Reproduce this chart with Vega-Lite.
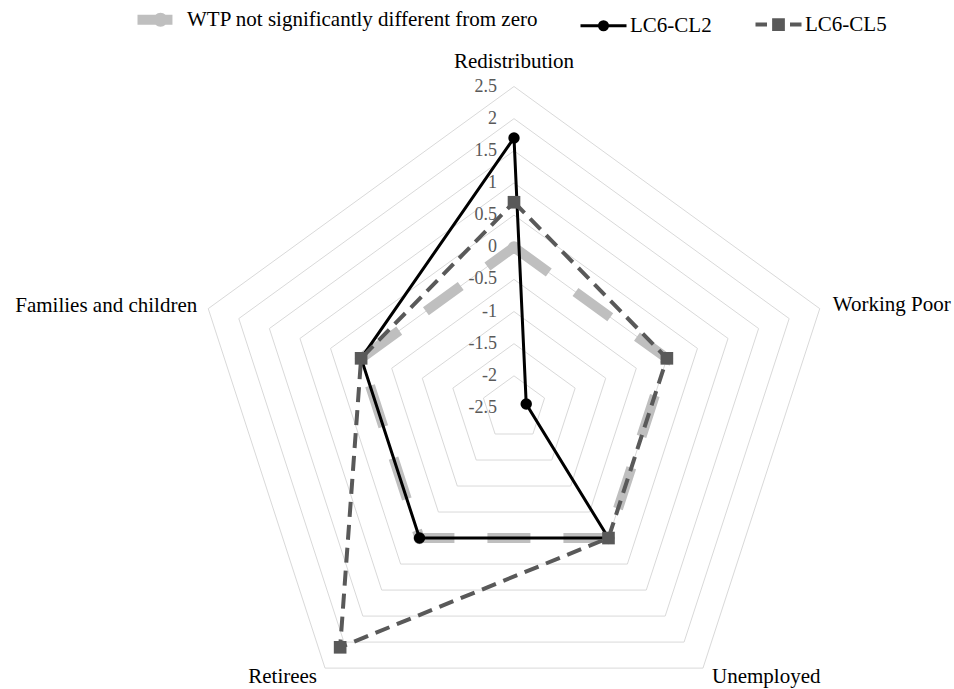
{
  "$schema": "https://vega.github.io/schema/vega-lite/v6.json",
  "width": 954,
  "height": 689,
  "autosize": "none",
  "padding": 0,
  "background": "white",
  "config": {"view": {"stroke": null}, "text": {"font": "Liberation Serif"}, "legend": {"labelFont": "Liberation Serif"}},
  "datasets": {
    "series": [
      {"series": "WTP not significantly different from zero", "category": "Redistribution", "k": 0, "value": 0},
      {"series": "WTP not significantly different from zero", "category": "Working Poor", "k": 1, "value": 0},
      {"series": "WTP not significantly different from zero", "category": "Unemployed", "k": 2, "value": 0},
      {"series": "WTP not significantly different from zero", "category": "Retirees", "k": 3, "value": 0},
      {"series": "WTP not significantly different from zero", "category": "Families and children", "k": 4, "value": 0},
      {"series": "WTP not significantly different from zero", "category": "Redistribution", "k": 5, "value": 0},
      {"series": "LC6-CL2", "category": "Redistribution", "k": 0, "value": 1.7},
      {"series": "LC6-CL2", "category": "Working Poor", "k": 1, "value": -2.3},
      {"series": "LC6-CL2", "category": "Unemployed", "k": 2, "value": 0},
      {"series": "LC6-CL2", "category": "Retirees", "k": 3, "value": 0},
      {"series": "LC6-CL2", "category": "Families and children", "k": 4, "value": 0},
      {"series": "LC6-CL2", "category": "Redistribution", "k": 5, "value": 1.7},
      {"series": "LC6-CL5", "category": "Redistribution", "k": 0, "value": 0.7},
      {"series": "LC6-CL5", "category": "Working Poor", "k": 1, "value": 0},
      {"series": "LC6-CL5", "category": "Unemployed", "k": 2, "value": 0},
      {"series": "LC6-CL5", "category": "Retirees", "k": 3, "value": 2.1},
      {"series": "LC6-CL5", "category": "Families and children", "k": 4, "value": 0},
      {"series": "LC6-CL5", "category": "Redistribution", "k": 5, "value": 0.7}
    ],
    "rings": [
      {"level": -2, "k": [0, 1, 2, 3, 4, 5]},
      {"level": -1.5, "k": [0, 1, 2, 3, 4, 5]},
      {"level": -1, "k": [0, 1, 2, 3, 4, 5]},
      {"level": -0.5, "k": [0, 1, 2, 3, 4, 5]},
      {"level": 0, "k": [0, 1, 2, 3, 4, 5]},
      {"level": 0.5, "k": [0, 1, 2, 3, 4, 5]},
      {"level": 1, "k": [0, 1, 2, 3, 4, 5]},
      {"level": 1.5, "k": [0, 1, 2, 3, 4, 5]},
      {"level": 2, "k": [0, 1, 2, 3, 4, 5]},
      {"level": 2.5, "k": [0, 1, 2, 3, 4, 5]}
    ],
    "ticks": [
      {"level": -2.5, "label": "-2.5"},
      {"level": -2, "label": "-2"},
      {"level": -1.5, "label": "-1.5"},
      {"level": -1, "label": "-1"},
      {"level": -0.5, "label": "-0.5"},
      {"level": 0, "label": "0"},
      {"level": 0.5, "label": "0.5"},
      {"level": 1, "label": "1"},
      {"level": 1.5, "label": "1.5"},
      {"level": 2, "label": "2"},
      {"level": 2.5, "label": "2.5"}
    ],
    "cats": [
      {"category": "Redistribution", "k": 0},
      {"category": "Working Poor", "k": 1},
      {"category": "Unemployed", "k": 2},
      {"category": "Retirees", "k": 3},
      {"category": "Families and children", "k": 4}
    ]
  },
  "encoding": {
    "x": {"field": "x", "type": "quantitative", "scale": {"domain": [-7.9938, 6.843], "nice": false, "zero": false}, "axis": null},
    "y": {"field": "y", "type": "quantitative", "scale": {"domain": [-4.3701, 6.3453], "nice": false, "zero": false}, "axis": null}
  },
  "layer": [
    {
      "data": {"name": "rings"},
      "transform": [
        {"flatten": ["k"]},
        {"calculate": "datum.k*2*PI/5", "as": "t"},
        {"calculate": "(datum.level+2.5)*sin(datum.t)", "as": "x"},
        {"calculate": "(datum.level+2.5)*cos(datum.t)", "as": "y"}
      ],
      "mark": {"type": "line", "stroke": "#d9d9d9", "strokeWidth": 1},
      "encoding": {"detail": {"field": "level", "type": "nominal"}, "order": {"field": "k", "type": "quantitative"}}
    },
    {
      "data": {"name": "ticks"},
      "transform": [
        {"calculate": "0", "as": "x"},
        {"calculate": "datum.level+2.5", "as": "y"}
      ],
      "mark": {"type": "text", "align": "right", "baseline": "middle", "dx": -17, "fontSize": 18, "font": "Liberation Serif", "color": "#595959"},
      "encoding": {"text": {"field": "label", "type": "nominal"}}
    },
    {
      "data": {"name": "cats"},
      "transform": [
        {"filter": "datum.k === 0"},
        {"calculate": "datum.k*2*PI/5", "as": "t"},
        {"calculate": "5*sin(datum.t)", "as": "x"},
        {"calculate": "5*cos(datum.t)", "as": "y"}
      ],
      "mark": {"type": "text", "align": "center", "baseline": "alphabetic", "dy": -18.5, "fontSize": 21, "font": "Liberation Serif", "color": "#000000"},
      "encoding": {"text": {"field": "category", "type": "nominal"}}
    },
    {
      "data": {"name": "cats"},
      "transform": [
        {"filter": "datum.k === 1"},
        {"calculate": "datum.k*2*PI/5", "as": "t"},
        {"calculate": "5*sin(datum.t)", "as": "x"},
        {"calculate": "5*cos(datum.t)", "as": "y"}
      ],
      "mark": {"type": "text", "align": "left", "baseline": "alphabetic", "dx": 13, "dy": 2.5, "fontSize": 21, "font": "Liberation Serif", "color": "#000000"},
      "encoding": {"text": {"field": "category", "type": "nominal"}}
    },
    {
      "data": {"name": "cats"},
      "transform": [
        {"filter": "datum.k === 2"},
        {"calculate": "datum.k*2*PI/5", "as": "t"},
        {"calculate": "5*sin(datum.t)", "as": "x"},
        {"calculate": "5*cos(datum.t)", "as": "y"}
      ],
      "mark": {"type": "text", "align": "left", "baseline": "alphabetic", "dx": 9, "dy": 15, "fontSize": 21, "font": "Liberation Serif", "color": "#000000"},
      "encoding": {"text": {"field": "category", "type": "nominal"}}
    },
    {
      "data": {"name": "cats"},
      "transform": [
        {"filter": "datum.k === 3"},
        {"calculate": "datum.k*2*PI/5", "as": "t"},
        {"calculate": "5*sin(datum.t)", "as": "x"},
        {"calculate": "5*cos(datum.t)", "as": "y"}
      ],
      "mark": {"type": "text", "align": "right", "baseline": "alphabetic", "dx": -8, "dy": 15, "fontSize": 21, "font": "Liberation Serif", "color": "#000000"},
      "encoding": {"text": {"field": "category", "type": "nominal"}}
    },
    {
      "data": {"name": "cats"},
      "transform": [
        {"filter": "datum.k === 4"},
        {"calculate": "datum.k*2*PI/5", "as": "t"},
        {"calculate": "5*sin(datum.t)", "as": "x"},
        {"calculate": "5*cos(datum.t)", "as": "y"}
      ],
      "mark": {"type": "text", "align": "right", "baseline": "alphabetic", "dx": -11, "dy": 3.5, "fontSize": 21, "font": "Liberation Serif", "color": "#000000"},
      "encoding": {"text": {"field": "category", "type": "nominal"}}
    },
    {
      "data": {"name": "series"},
      "transform": [
        {"filter": "datum.series === 'WTP not significantly different from zero'"},
        {"calculate": "datum.k*2*PI/5", "as": "t"},
        {"calculate": "(datum.value+2.5)*sin(datum.t)", "as": "x"},
        {"calculate": "(datum.value+2.5)*cos(datum.t)", "as": "y"}
      ],
      "mark": {"type": "line", "strokeWidth": 10, "strokeDash": [43, 33], "strokeCap": "butt"},
      "encoding": {
        "order": {"field": "k", "type": "quantitative"},
        "color": {
          "field": "series", "type": "nominal",
          "scale": {"domain": ["WTP not significantly different from zero", "LC6-CL2", "LC6-CL5"], "range": ["#bfbfbf", "#000000", "#595959"]},
          "legend": {
            "orient": "none", "legendX": 150, "legendY": 9, "direction": "horizontal", "title": null,
            "symbolSize": 2116, "symbolType": "circle",
            "labelFont": "Liberation Serif", "labelFontSize": 21, "labelColor": "#000000", "labelLimit": 600,
            "labelOffset": 16, "columnPadding": 35,
            "encode": {
              "symbols": {
                "update": {
                  "shape": {"signal": "datum.value === 'LC6-CL2' ? 'M-1,0H1M-0.174,0A0.174 0.174 0 1 0 0.174,0A0.174 0.174 0 1 0 -0.174,0Z' : datum.value === 'LC6-CL5' ? 'M-1,0H-0.5M0.5,0H1M-0.19,-0.19H0.19V0.19H-0.19Z' : 'M-1,0H0.52M-0.09,0A0.09 0.09 0 1 0 0.09,0A0.09 0.09 0 1 0 -0.09,0Z'"},
                  "fill": {"signal": "datum.value === 'LC6-CL2' ? '#000000' : datum.value === 'LC6-CL5' ? '#595959' : '#bfbfbf'"},
                  "stroke": {"signal": "datum.value === 'LC6-CL2' ? '#000000' : datum.value === 'LC6-CL5' ? '#595959' : '#bfbfbf'"},
                  "strokeWidth": {"signal": "datum.value === 'LC6-CL2' ? 3 : datum.value === 'LC6-CL5' ? 4 : 10"},
                  "strokeDash": {"value": []},
                  "opacity": {"value": 1},
                  "fillOpacity": {"value": 1},
                  "strokeOpacity": {"value": 1}
                }
              }
            }
          }
        }
      }
    },
    {
      "data": {"name": "series"},
      "transform": [
        {"filter": "datum.series === 'WTP not significantly different from zero' && datum.k < 5"},
        {"calculate": "datum.k*2*PI/5", "as": "t"},
        {"calculate": "(datum.value+2.5)*sin(datum.t)", "as": "x"},
        {"calculate": "(datum.value+2.5)*cos(datum.t)", "as": "y"}
      ],
      "mark": {"type": "point", "shape": "circle", "filled": true, "size": 150, "color": "#bfbfbf", "opacity": 1},
      "encoding": {}
    },
    {
      "data": {"name": "series"},
      "transform": [
        {"filter": "datum.series === 'LC6-CL2'"},
        {"calculate": "datum.k*2*PI/5", "as": "t"},
        {"calculate": "(datum.value+2.5)*sin(datum.t)", "as": "x"},
        {"calculate": "(datum.value+2.5)*cos(datum.t)", "as": "y"}
      ],
      "mark": {"type": "line", "strokeWidth": 3},
      "encoding": {
        "order": {"field": "k", "type": "quantitative"},
        "color": {"field": "series", "type": "nominal"}
      }
    },
    {
      "data": {"name": "series"},
      "transform": [
        {"filter": "datum.series === 'LC6-CL2' && datum.k < 5"},
        {"calculate": "datum.k*2*PI/5", "as": "t"},
        {"calculate": "(datum.value+2.5)*sin(datum.t)", "as": "x"},
        {"calculate": "(datum.value+2.5)*cos(datum.t)", "as": "y"}
      ],
      "mark": {"type": "point", "shape": "circle", "filled": true, "size": 130, "color": "#000000", "opacity": 1},
      "encoding": {}
    },
    {
      "data": {"name": "series"},
      "transform": [
        {"filter": "datum.series === 'LC6-CL5'"},
        {"calculate": "datum.k*2*PI/5", "as": "t"},
        {"calculate": "(datum.value+2.5)*sin(datum.t)", "as": "x"},
        {"calculate": "(datum.value+2.5)*cos(datum.t)", "as": "y"}
      ],
      "mark": {"type": "line", "strokeWidth": 4, "strokeDash": [15, 8]},
      "encoding": {
        "order": {"field": "k", "type": "quantitative"},
        "color": {"field": "series", "type": "nominal"}
      }
    },
    {
      "data": {"name": "series"},
      "transform": [
        {"filter": "datum.series === 'LC6-CL5' && datum.k < 5"},
        {"calculate": "datum.k*2*PI/5", "as": "t"},
        {"calculate": "(datum.value+2.5)*sin(datum.t)", "as": "x"},
        {"calculate": "(datum.value+2.5)*cos(datum.t)", "as": "y"}
      ],
      "mark": {"type": "point", "shape": "square", "filled": true, "size": 160, "color": "#595959", "opacity": 1},
      "encoding": {}
    }
  ]
}
